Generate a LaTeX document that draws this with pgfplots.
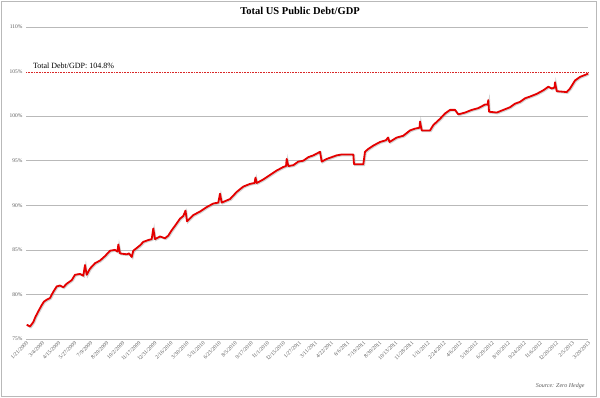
\documentclass[border=0pt]{standalone}
\usepackage{pgfplots}
\pgfplotsset{compat=1.18}
\usepackage{pgfplotstable}
\usepackage{fontspec}
\setmainfont{Liberation Serif}
\definecolor{linered}{RGB}{228,0,0}
\definecolor{gridgray}{RGB}{185,185,185}
\definecolor{labgray}{RGB}{90,90,90}
\pgfplotstableread{
x v
26.7 76.6
28.5 76.5
30 76.4
33.3 76.9
35.5 77.5
38.3 78.1
41.7 78.8
44 79.2
46.7 79.4
50 79.6
53.3 80.3
56.7 80.9
60 81.0
63.3 80.8
66.7 81.2
71.7 81.6
75 82.2
80 82.3
83.3 82.1
85 83.3
86.7 82.2
90 82.9
95 83.5
100 83.8
105 84.3
110 84.9
115 85.0
117.5 84.8
118.3 85.6
120 84.6
126.7 84.5
129 84.6
131.7 84.2
133.3 84.9
140 85.5
143.3 85.9
148.3 86.1
151.7 86.2
153.3 87.4
155 86.2
160 86.5
165 86.3
168.3 86.6
171.7 87.2
175 87.7
180 88.5
183.3 88.8
185.5 89.4
187 88.2
193.3 88.9
200 89.3
206.7 89.8
213.3 90.2
218.3 90.3
220 91.3
221.7 90.3
230 90.7
236.7 91.5
243.3 92.1
250 92.4
254.5 92.5
255.5 93.1
256.7 92.5
263.3 92.9
270 93.4
276.7 93.9
283.3 94.3
286 94.4
286.7 95.2
288.3 94.4
293.3 94.5
298.3 94.9
303.3 95.0
308.3 95.4
313.3 95.6
316.7 95.8
320 96.0
321.7 94.9
326.7 95.2
331.7 95.4
336.7 95.6
341.7 95.7
353.3 95.7
354 94.6
363.3 94.6
365 96.0
368 96.3
373.3 96.7
380 97.1
386 97.3
388 97.6
389.5 97.1
396.7 97.6
403.3 97.8
410 98.4
415 98.6
419.5 98.7
420 99.4
421.7 98.4
430 98.4
433.3 99.0
440 99.7
445 100.3
450 100.7
455 100.7
458.3 100.2
465 100.4
471.7 100.7
478.3 100.9
485 101.3
487.5 101.3
488.3 101.8
489 100.5
496.7 100.4
503.3 100.7
510 101.0
515 101.4
520 101.6
525 102.0
530 102.2
536.7 102.5
543.3 102.9
548.3 103.3
551.7 103.1
554.5 103.2
555 103.8
556.7 102.8
566.7 102.7
570 103.1
575 104.0
580 104.4
586.7 104.7
588 104.8
}\debt
\begin{document}
\begin{tikzpicture}
\path[use as bounding box] (0,0) rectangle (600pt,398pt);
\draw[gridgray, line width=1.5pt] (1.5pt,1.5pt) rectangle (596.5pt,396.5pt);
\node[font=\bfseries\fontsize{10.5}{12}\selectfont] at (300pt,387pt) {Total US Public Debt/GDP};
\node[font=\itshape\fontsize{6}{7}\selectfont, text=labgray, anchor=base east] at (588pt,10pt) {Source: Zero Hedge};
\begin{axis}[
  at={(26pt,59pt)}, anchor=south west,
  scale only axis, width=562pt, height=312pt,
  xmin=26, xmax=588, ymin=75, ymax=110,
  axis line style={draw=none},
  tick style={draw=none},
  ymajorgrids,
  grid style={gridgray, line width=0.7pt},
  ytick={75,80,85,90,95,100,110},
  yticklabels={75\%,80\%,85\%,90\%,95\%,100\%,110\%},
  extra y ticks={105},
  extra y tick labels={105\%},
  extra y tick style={grid=none},
  yticklabel style={font=\fontsize{5.5}{6}\selectfont, text=labgray},
  ytick pos=left,
  xtick pos=bottom,
  /pgf/number format/assume math mode=true,
  xtick={26,42.06,58.11,74.17,90.23,106.29,122.34,138.4,154.46,170.51,186.57,202.63,218.69,234.74,250.8,266.86,282.91,298.97,315.03,331.09,347.14,363.2,379.26,395.31,411.37,427.43,443.49,459.54,475.6,491.66,507.71,523.77,539.83,555.89,571.94,588},
  xticklabels={1/21/2009,3/4/2009,4/15/2009,5/27/2009,7/9/2009,8/20/2009,10/2/2009,11/17/2009,12/31/2009,2/16/2010,3/30/2010,5/11/2010,6/23/2010,8/5/2010,9/17/2010,11/1/2010,12/15/2010,1/27/2011,3/11/2011,4/22/2011,6/6/2011,7/19/2011,8/30/2011,10/13/2011,11/28/2011,1/11/2012,2/24/2012,4/6/2012,5/18/2012,6/29/2012,8/10/2012,9/24/2012,11/6/2012,12/20/2012,2/5/2013,3/20/2013},
  xticklabel style={font=\fontsize{5.5}{6}\selectfont, text=labgray, rotate=45, anchor=north east, inner sep=1pt},
  clip=false,
]
\addplot[densely dotted, red!70!gray, line width=0.6pt, forget plot] coordinates {(26,104.9) (588,104.9)};
\addplot[black!35, line width=1.8pt, opacity=0.5, shift={(0.9pt,-0.9pt)}, forget plot] table[x=x,y=v] {\debt};
\addplot[linered, line width=1.8pt, line join=round] table[x=x,y=v] {\debt};
\node[anchor=base west, font=\fontsize{8}{9}\selectfont] at (axis cs:29.5,105.4) {Total Debt/GDP: 104.8\%};
\end{axis}
\end{tikzpicture}
\end{document}
